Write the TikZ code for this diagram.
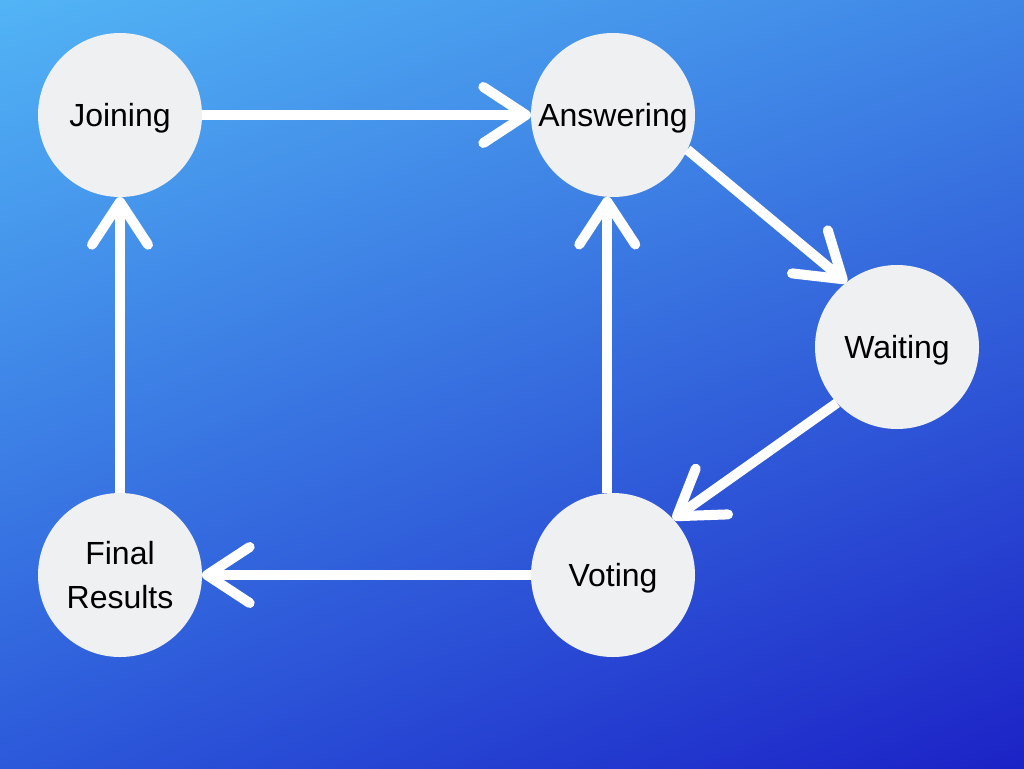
\documentclass[tikz,border=0pt]{standalone}
\usepackage{fontspec}
\setmainfont{Liberation Sans}
\usetikzlibrary{arrows.meta,shadings}
\definecolor{tl}{HTML}{52B4F5}
\definecolor{tr}{HTML}{3F86E6}
\definecolor{bl}{HTML}{2C59DA}
\definecolor{br}{HTML}{1C22C6}
\definecolor{circ}{HTML}{EEF0F2}
\tikzset{
  state/.style={circle, fill=circ, minimum size=123pt, inner sep=0pt, outer sep=0pt,
    text=black, align=center, text depth=0pt, font=\fontsize{24}{33}\selectfont},
  conn/.style={draw=white, line width=7.5pt,
    -{Straight Barb[length=32pt, width=42pt, round]}},
}
\begin{document}
\begin{tikzpicture}[x=0.75pt, y=-0.75pt]
\useasboundingbox (0,0) rectangle (1024,768);
\shade[upper left=tl, upper right=tr, lower left=bl, lower right=br] (0,0) rectangle (1024,768);
\node[state] (J) at (120,115) {Joining};
\node[state] (A) at (613,115) {Answering};
\node[state] (W) at (897,347) {Waiting};
\node[state] (V) at (613,575) {Voting};
\node[state] (F) at (120,575) {Final\\Results};
\draw[conn] (J.east) -- (A.west);
\draw[conn] (A.-25) -- (W.128);
\draw[conn] (W.223) -- (V.43);
\draw[conn] (V.94) -- (A.266);
\draw[conn] (V.west) -- (F.east);
\draw[conn] (F.north) -- (J.south);
\end{tikzpicture}
\end{document}
